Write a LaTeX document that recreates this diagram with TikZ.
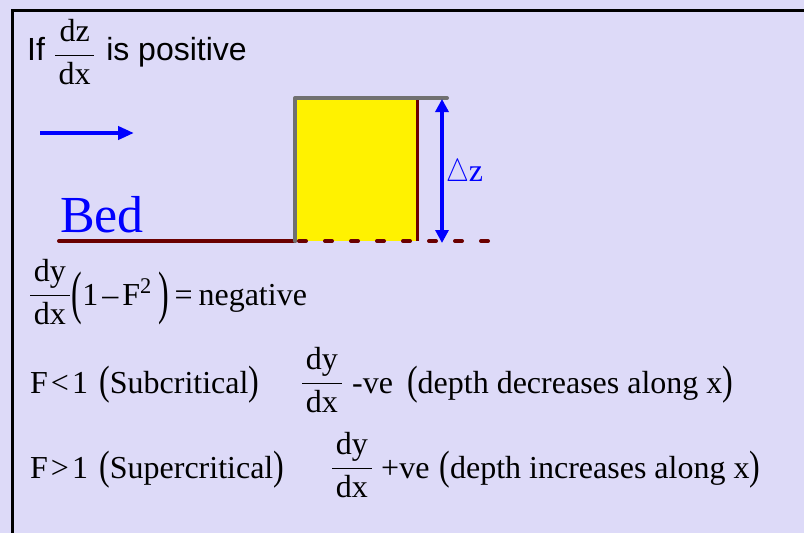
\RequirePackage{fix-cm}
\documentclass[tikz,border=0pt]{standalone}
\usepackage{amsmath}
\usepackage{graphicx}
\usepackage{fontspec}
\setmainfont{Liberation Serif}
\setsansfont{Liberation Sans}
\usetikzlibrary{arrows.meta}
\definecolor{slidebg}{HTML}{DDDAF8}
\definecolor{bedred}{HTML}{6B0000}
\definecolor{stepgray}{HTML}{707070}
% derivative written as a stacked fraction
\newcommand{\dd}[1]{\raisebox{2pt}{$\displaystyle\frac{\mkern2mu\mathrm{d#1}\mkern2mu}{\mkern2mu\mathrm{dx}\mkern2mu}$}}
% thin stretched bracket
\newcommand{\tallparen}[3]{\raisebox{#3}{\scalebox{1}[#2]{#1}}}
\tikzset{
  bedline/.style={line width=4pt, color=bedred, line cap=round},
  flowarr/.style={-{Triangle[length=16pt,width=13pt]}, line width=4.5pt, color=blue},
  dzarr/.style={{Triangle[length=13pt,width=13pt]}-{Triangle[length=13pt,width=13pt]}, line width=4pt, color=blue},
  eqtext/.style={anchor=base west, inner sep=0pt, font=\fontsize{32}{38}\selectfont}}

\begin{document}
\begin{tikzpicture}[x=1pt, y=-1pt]
  \useasboundingbox (0,0) rectangle (804,533);
  \clip (0,0) rectangle (804,533);
  \fill[slidebg] (0,0) rectangle (804,533);
  % slide frame
  \draw[line width=3pt] (12,560) |- (830,10);

  % heading
  \node[anchor=base west, inner sep=0pt, font=\sffamily\fontsize{32}{38}\selectfont] (cond) at (27,60)
    {If {\rmfamily\fontsize{32}{38}\selectfont\raisebox{-5pt}{\dd{z}}}\hspace{2pt} is positive};

  % flow direction
  \coordinate (flowA) at (40,133);
  \coordinate (flowB) at (134,133);
  \draw[flowarr] (flowA) -- (flowB);

  % step in the bed
  \coordinate (bedL) at (59,241);
  \coordinate (stepBL) at (295,241);
  \coordinate (stepTL) at (295,98);
  \coordinate (stepTR) at (417,98);
  \coordinate (stepBR) at (417,241);
  \coordinate (topR) at (447,98);
  \coordinate (bedR) at (491,241);
  \fill[yellow] (stepBL) rectangle (stepTR);
  \draw[bedline] (bedL) -- (stepBL);
  \draw[bedline, dash pattern=on 7pt off 19pt, dash phase=22pt] (stepBL) -- (bedR);
  \draw[bedred, line width=3pt] (stepTR) -- (stepBR);
  \draw[stepgray, line width=4pt, line cap=round, line join=round] (stepBL) -- (stepTL) -- (topR);
  \node[anchor=base west, inner sep=0pt, text=blue, font=\fontsize{52}{60}\selectfont] (bed) at (60,232) {Bed};

  % step height
  \coordinate (dzT) at (442,99);
  \coordinate (dzB) at (442,243);
  \draw[dzarr] (dzT) -- (dzB);
  \node[anchor=base west, inner sep=0pt, text=blue, font=\fontsize{32}{38}\selectfont] (dz) at (446,181)
    {\scalebox{0.8}[1]{$\triangle$}z};

  % energy relation
  \node[eqtext] (rel) at (29,305)
    {\dd{y}\hspace{1pt}\tallparen{(}{1.83}{-7.5pt}1\kern4pt–\kern4pt F\textsuperscript{2}\hspace{7pt}\tallparen{)}{1.83}{-7.5pt}\hspace{5pt}=\hspace{6pt}negative};

  % subcritical
  \node[eqtext] (subF) at (30,393) {F\hspace{3pt}<\hspace{3pt}1};
  \node[eqtext] (subP) at (99,393) {\tallparen{(}{1.28}{-1.5pt}Subcritical\tallparen{)}{1.28}{-1.5pt}};
  \node[eqtext] (subfr) at (301,393) {\dd{y}};
  \node[eqtext] (subtx) at (352,393) {-ve\hspace{6pt} \tallparen{(}{1.28}{-1.5pt}depth decreases along x\tallparen{)}{1.28}{-1.5pt}};

  % supercritical
  \node[eqtext] (supF) at (30,478) {F\hspace{3pt}>\hspace{3pt}1};
  \node[eqtext] (supP) at (99,478) {\tallparen{(}{1.28}{-1.5pt}Supercritical\tallparen{)}{1.28}{-1.5pt}};
  \node[eqtext] (supfr) at (331,478) {\dd{y}};
  \node[eqtext] (suptx) at (381,478) {+ve\hspace{2pt} \tallparen{(}{1.28}{-1.5pt}depth increases along x\tallparen{)}{1.28}{-1.5pt}};
\end{tikzpicture}
\end{document}
